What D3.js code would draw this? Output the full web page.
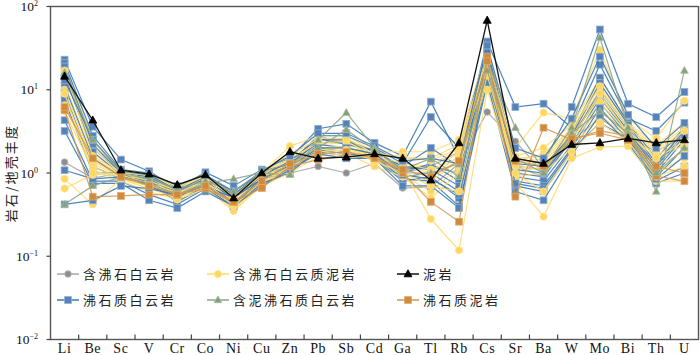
<!DOCTYPE html>
<html>
<head>
<meta charset="utf-8">
<script src="https://cdn.jsdelivr.net/npm/d3@7"></script>
<style>
  body { margin: 0; background: #fff; }
  svg { display: block; }
</style>
</head>
<body>
<div id="chart"></div>
<script>
// elements along the x axis
const elements = ['Li', 'Be', 'Sc', 'V', 'Cr', 'Co', 'Ni', 'Cu', 'Zn', 'Pb', 'Sb', 'Cd',
    'Ga', 'Tl', 'Rb', 'Cs', 'Sr', 'Ba', 'W', 'Mo', 'Bi', 'Th', 'U'];

const yTicks = [0.01, 0.1, 1, 10, 100];
const yTickExp = ['\u22122', '\u22121', '0', '1', '2'];

// rock / crust ratios, one row per sample
const zeoliteDolomite = [ // 含沸石白云岩
    [1.35, 0.87, 1.0, 0.8, 0.47, 0.65, 0.45, 0.75, 1.0, 1.2, 1.0, 1.3, 0.66, 0.68, 1.3, 5.4, 2.4, 1.0, 2.5, 4.5, 2.8, 1.8, 2.8],
    [15, 2.0, 1.0, 0.85, 0.6, 0.75, 0.55, 1.0, 1.2, 2.8, 2.2, 1.8, 1.0, 1.2, 1.8, 20, 1.2, 0.9, 3.0, 8, 3.2, 1.2, 3.5]
];

const zeoliticDolomite = [ // 沸石质白云岩
    [23, 3.6, 1.45, 1.05, 0.65, 1.02, 0.7, 1.1, 1.5, 3.4, 3.9, 2.3, 1.6, 7.2, 1.5, 38, 6.2, 6.8, 3.5, 20, 4.5, 3.2, 7.0],
    [21, 2.8, 1.1, 1.0, 0.7, 0.95, 0.6, 1.0, 1.3, 2.8, 2.8, 2.0, 1.3, 4.7, 2.0, 30, 1.5, 1.3, 6.2, 53, 6.8, 4.7, 9.4],
    [19, 2.2, 1.0, 0.9, 0.6, 0.85, 0.55, 0.95, 1.2, 2.5, 2.5, 1.8, 1.2, 2.0, 1.2, 25, 1.2, 1.1, 3.0, 14, 4.0, 1.5, 3.5],
    [15, 1.8, 0.95, 0.85, 0.55, 0.8, 0.5, 0.9, 1.1, 2.2, 2.0, 1.7, 1.0, 1.3, 0.8, 20, 1.0, 0.9, 2.5, 10, 3.5, 1.2, 3.0],
    [11, 1.5, 0.9, 0.8, 0.5, 0.75, 0.45, 0.85, 1.0, 2.0, 1.8, 1.6, 0.9, 1.0, 0.6, 18, 0.9, 0.8, 2.2, 8, 3.0, 1.0, 2.5],
    [9, 1.2, 0.85, 0.75, 0.45, 0.7, 0.42, 0.8, 1.2, 1.8, 1.6, 1.5, 0.8, 0.9, 0.5, 15, 0.8, 0.7, 2.0, 7, 2.8, 0.9, 2.0],
    [7.5, 1.0, 1.0, 0.7, 0.5, 0.8, 0.5, 0.9, 1.4, 2.6, 2.2, 1.9, 1.1, 1.2, 1.0, 22, 1.3, 1.2, 2.8, 12, 3.8, 1.3, 3.2],
    [4.3, 0.8, 0.8, 0.55, 0.42, 0.65, 0.4, 0.75, 1.0, 1.9, 1.7, 1.6, 0.85, 0.8, 0.4, 14, 0.7, 0.6, 1.8, 6, 2.5, 0.8, 1.2],
    [3.2, 0.75, 0.75, 0.47, 0.38, 0.6, 0.4, 0.7, 1.1, 1.7, 1.5, 1.5, 0.7, 0.7, 0.38, 12, 0.6, 0.47, 1.65, 5, 2.3, 0.75, 1.0],
    [1.08, 0.85, 0.9, 0.8, 0.6, 0.85, 0.55, 1.0, 1.3, 2.3, 2.4, 1.8, 1.2, 1.1, 0.7, 28, 1.1, 1.0, 2.6, 9, 3.2, 1.1, 2.8],
    [0.42, 0.47, 0.7, 0.65, 0.55, 0.7, 0.5, 0.85, 1.2, 2.0, 2.0, 1.7, 0.95, 0.85, 0.55, 16, 0.75, 0.65, 1.9, 4, 2.6, 0.85, 1.6],
    [13, 2.5, 1.05, 0.95, 0.62, 0.9, 0.6, 1.05, 1.6, 3.0, 3.0, 2.1, 1.4, 1.5, 1.3, 34, 2.0, 1.5, 4.5, 25, 5.0, 2.0, 4.0]
];

const zeoliteMudstone = [ // 含沸石白云质泥岩
    [20, 2.5, 1.1, 1.0, 0.7, 0.95, 0.55, 1.0, 2.1, 2.8, 2.8, 1.8, 1.8, 1.8, 2.5, 30, 2.0, 5.3, 4.5, 30, 4.5, 2.6, 7.4],
    [18, 2.0, 1.05, 0.9, 0.65, 0.9, 0.5, 0.95, 1.7, 2.5, 2.5, 1.7, 1.5, 1.5, 2.2, 25, 1.6, 2.0, 3.8, 14, 4.0, 2.2, 4.0],
    [15, 1.8, 1.0, 0.85, 0.6, 0.85, 0.45, 0.9, 1.5, 2.2, 2.3, 1.6, 1.3, 1.2, 2.0, 22, 1.4, 1.7, 3.4, 12, 3.8, 2.0, 3.5],
    [12, 1.5, 0.95, 0.8, 0.58, 0.8, 0.42, 0.85, 1.4, 2.0, 2.1, 1.55, 1.2, 1.0, 1.8, 20, 1.3, 1.5, 3.0, 10, 3.5, 1.8, 3.0],
    [10, 1.4, 0.9, 0.75, 0.55, 0.75, 0.4, 0.8, 1.3, 1.9, 2.0, 1.5, 1.1, 0.9, 1.6, 18, 1.2, 1.4, 2.8, 8, 3.2, 1.6, 2.6],
    [8, 1.3, 0.9, 0.7, 0.5, 0.7, 0.38, 0.75, 1.2, 1.8, 1.9, 1.45, 1.0, 0.8, 1.4, 16, 1.1, 1.3, 2.5, 7, 3.0, 1.4, 2.2],
    [6.5, 1.2, 0.85, 0.65, 0.5, 0.7, 0.36, 0.75, 1.1, 1.7, 1.8, 1.4, 0.95, 0.6, 1.2, 14, 1.0, 1.2, 2.3, 6, 2.8, 1.2, 1.8],
    [5.5, 1.1, 0.8, 0.6, 0.48, 0.65, 0.35, 0.7, 1.0, 1.6, 1.7, 1.2, 0.9, 0.5, 1.0, 12, 0.9, 1.0, 2.0, 5, 2.6, 1.0, 1.5],
    [0.85, 0.42, 0.85, 0.7, 0.6, 0.85, 0.45, 0.9, 1.3, 2.0, 2.0, 1.5, 1.1, 0.28, 0.118, 10, 0.78, 0.3, 1.5, 2.05, 2.1, 0.8, 0.8],
    [0.65, 0.95, 1.0, 0.8, 0.62, 0.9, 0.5, 0.95, 1.5, 2.3, 2.4, 1.6, 1.3, 1.1, 1.5, 17, 1.2, 1.1, 2.6, 9, 3.0, 1.5, 2.4],
    [17, 1.6, 1.0, 0.95, 0.68, 0.92, 0.52, 1.0, 1.6, 2.6, 2.6, 1.7, 1.6, 1.4, 2.0, 24, 1.5, 1.6, 3.2, 11, 3.5, 1.9, 3.2],
    [9, 1.0, 0.95, 0.75, 0.55, 0.78, 0.4, 0.8, 1.2, 1.8, 1.9, 1.4, 1.0, 0.7, 0.6, 15, 1.0, 0.6, 1.8, 4, 2.4, 0.9, 1.2]
];

const mudMudstone = [ // 泥岩
    [14.5, 4.3, 1.08, 0.97, 0.72, 0.95, 0.5, 1.0, 1.8, 1.5, 1.55, 1.7, 1.5, 0.82, 2.3, 68, 1.5, 1.3, 2.2, 2.3, 2.6, 2.3, 2.5]
];

const muddyDolomite = [ // 含泥沸石质白云岩
    [0.42, 0.7, 0.9, 0.75, 0.55, 0.75, 0.85, 1.0, 0.95, 2.5, 5.3, 2.0, 1.0, 1.0, 1.3, 22, 3.5, 1.1, 3.5, 42, 3.5, 0.6, 17],
    [16, 2.5, 1.0, 0.85, 0.65, 0.8, 0.6, 1.05, 1.3, 2.0, 3.3, 1.9, 1.1, 1.5, 0.9, 17, 1.5, 1.0, 3.0, 5.5, 3.0, 1.0, 2.0]
];

const zeoliticMudstone = [ // 沸石质泥岩
    [5.7, 0.52, 0.53, 0.55, 0.55, 0.65, 0.45, 0.66, 1.2, 1.45, 1.6, 1.6, 1.0, 0.45, 0.26, 25, 0.52, 3.5, 2.5, 3.2, 2.8, 0.92, 0.8],
    [6.2, 1.5, 0.9, 0.7, 0.55, 0.7, 0.45, 0.8, 1.3, 1.7, 1.8, 1.5, 1.1, 0.9, 1.4, 22, 1.4, 1.2, 2.6, 3.0, 2.5, 1.2, 1.0]
];

const groups = [
    { name: '含沸石白云岩', rows: zeoliteDolomite, line: '#a6a6a6', fill: '#8e8e8e', stroke: '#b5b5b5', shape: 'circle', r: 3.3 },
    { name: '沸石质白云岩', rows: zeoliticDolomite, line: '#3a78b5', fill: '#5583b7', stroke: '#8eaed2', shape: 'square', r: 3.4 },
    { name: '含沸石白云质泥岩', rows: zeoliteMudstone, line: '#ffdb70', fill: '#ffd75e', stroke: '#ffe399', shape: 'circle', r: 3.6 },
    { name: '含泥沸石质白云岩', rows: muddyDolomite, line: '#8ea587', fill: '#86a07a', stroke: '#a9bd9f', shape: 'triangle', r: 3.6 },
    { name: '沸石质泥岩', rows: zeoliticMudstone, line: '#d4974f', fill: '#d08a3c', stroke: '#e0aa6c', shape: 'square', r: 3.4 },
    { name: '泥岩', rows: mudMudstone, line: '#111', fill: '#000', stroke: '#000', shape: 'triangle', r: 3.8 }
];

// legend order in the picture (3 columns x 2 rows)
const legendOrder = ['含沸石白云岩', '含沸石白云质泥岩', '泥岩', '沸石质白云岩', '含泥沸石质白云岩', '沸石质泥岩'];

const width = 700, height = 355;
const margins = { top: 6.5, left: 50.5, right: 1.5, bottom: 15.5 };

const svg = d3.select('#chart').append('svg')
    .attr('width', width)
    .attr('height', height);

//scales
const x = d3.scaleBand()
    .domain(elements)
    .range([margins.left, width - margins.right])
    .padding(0);
const y = d3.scaleLog()
    .domain([0.01, 100])
    .range([height - margins.bottom, margins.top]);

const cx = d => x(d) + x.bandwidth() / 2;

//frame
svg.append('rect')
    .attr('x', margins.left)
    .attr('y', margins.top)
    .attr('width', width - margins.left - margins.right)
    .attr('height', height - margins.top - margins.bottom)
    .attr('fill', 'none')
    .attr('stroke', '#555')
    .attr('stroke-width', 1.4);

//x axis: ticks on band edges, pointing inward
const xAxisG = svg.append('g')
    .attr('transform', `translate(0,${height - margins.bottom})`);
xAxisG.selectAll('line')
    .data(elements.slice(1))
    .join('line')
    .attr('x1', d => x(d)).attr('x2', d => x(d))
    .attr('y1', 0).attr('y2', -5)
    .attr('stroke', '#444').attr('stroke-width', 1.2);
xAxisG.selectAll('text')
    .data(elements)
    .join('text')
    .attr('x', d => cx(d))
    .attr('y', 13.5)
    .attr('text-anchor', 'middle')
    .style('font-family', '"Liberation Serif", "Times New Roman", serif')
    .style('font-size', '14px')
    .style('letter-spacing', '0.6px')
    .attr('fill', '#111')
    .text(d => d);

//y axis
const yAxisG = svg.append('g');
yAxisG.selectAll('line')
    .data(yTicks)
    .join('line')
    .attr('x1', margins.left - 4).attr('x2', margins.left)
    .attr('y1', d => y(d)).attr('y2', d => y(d))
    .attr('stroke', '#444').attr('stroke-width', 1.2);
const yLab = yAxisG.selectAll('text')
    .data(yTicks)
    .join('text')
    .attr('x', 38)
    .attr('y', d => y(d) + 4.5)
    .attr('text-anchor', 'end')
    .style('font-family', '"Liberation Serif", "Times New Roman", serif')
    .style('font-size', '13.5px')
    .attr('fill', '#111');
yLab.append('tspan').text('10');
yLab.append('tspan')
    .attr('dy', -5)
    .style('font-size', '8px')
    .text((d, i) => yTickExp[i]);

//y label
svg.append('text')
    .attr('transform', `translate(16,${(margins.top + height - margins.bottom) / 2}) rotate(-90)`)
    .attr('text-anchor', 'middle')
    .style('font-family', '"Noto Sans CJK SC", sans-serif')
    .style('font-size', '13px')
    .style('letter-spacing', '2.2px')
    .attr('fill', '#222')
    .text('岩石/地壳丰度');

function marker(sel, g) {
    const r = g.r;
    if (g.shape === 'circle') {
        return sel.append('circle').attr('r', r);
    }
    if (g.shape === 'square') {
        return sel.append('rect')
            .attr('x', -r).attr('y', -r)
            .attr('width', 2 * r).attr('height', 2 * r);
    }
    return sel.append('path')
        .attr('d', `M0,${-r * 1.15}L${r * 1.05},${r * 0.75}L${-r * 1.05},${r * 0.75}Z`);
}

//lines
const line = d3.line()
    .x((d, i) => cx(elements[i]))
    .y(d => y(d));

const plot = svg.append('g');

// interleave samples of the two big groups so neither sits fully on top
const drawList = [];
groups.forEach(g => g.rows.forEach((row, k) => drawList.push({ g, row, k })));
const orderKey = o => {
    if (o.g.name === '泥岩') return 1000;
    if (o.g.name === '沸石质泥岩' || o.g.name === '含泥沸石质白云岩') return 100 + o.k * 2;
    return o.k * 2 + (o.g.name === '含沸石白云质泥岩' ? 1 : 0);
};
drawList.sort((a, b) => orderKey(a) - orderKey(b));

drawList.forEach(o => {
    const g = o.g;
    const s = plot.append('g');
    s.append('path')
        .datum(o.row)
        .attr('d', line)
        .attr('fill', 'none')
        .attr('stroke', g.line)
        .attr('stroke-width', g.name === '泥岩' ? 1.3 : 1.2)
        .attr('stroke-opacity', g.name === '泥岩' ? 1 : 0.9);
    o.row.forEach((v, i) => {
        const m = s.append('g').attr('transform', `translate(${cx(elements[i])},${y(v)})`);
        marker(m, g)
            .attr('fill', g.fill)
            .attr('stroke', g.stroke)
            .attr('stroke-width', 0.8);
    });
});

//legend
const legendCols = [57, 207, 397];
const legendRows = [274, 300];
legendOrder.forEach((name, i) => {
    const g = groups.find(d => d.name === name);
    const lx = legendCols[i % 3];
    const ly = legendRows[Math.floor(i / 3)];
    const lg = svg.append('g').attr('transform', `translate(${lx},${ly})`);
    lg.append('line')
        .attr('x1', 0).attr('x2', 22)
        .attr('stroke', g.line)
        .attr('stroke-width', 1.5);
    marker(lg.append('g').attr('transform', 'translate(11,0)'), g)
        .attr('fill', g.fill)
        .attr('stroke', g.stroke)
        .attr('stroke-width', 0.8);
    lg.append('text')
        .attr('x', 26)
        .attr('y', 4.5)
        .style('font-family', '"Noto Sans CJK SC", sans-serif')
        .style('font-size', '13px')
        .style('letter-spacing', '2.5px')
        .attr('fill', '#222')
        .text(name);
});
</script>
</body>
</html>
